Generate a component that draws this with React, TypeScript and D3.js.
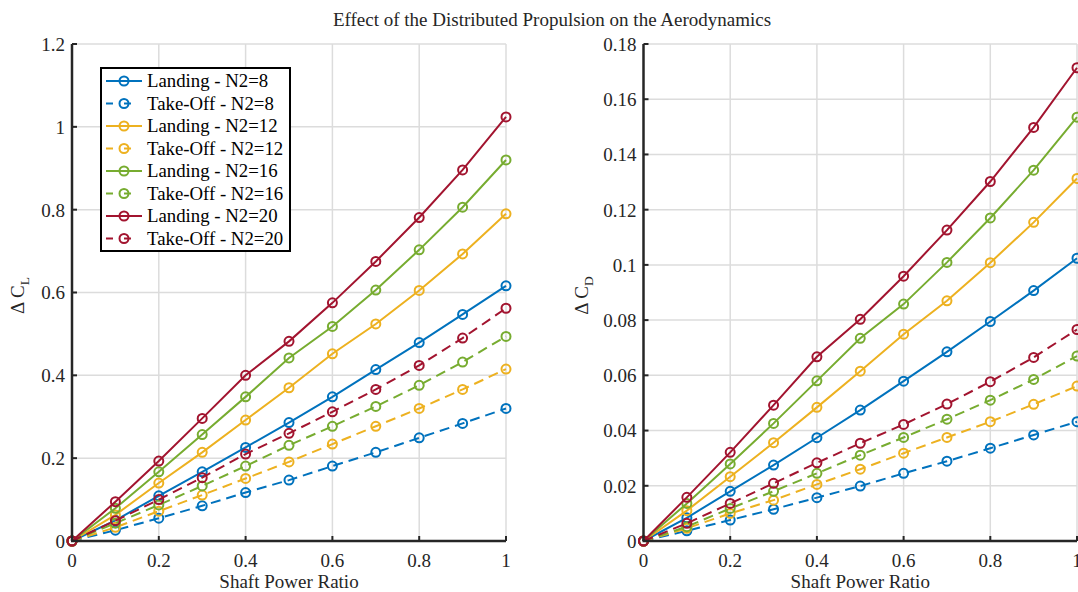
import React, { useRef, useEffect } from "react";
import * as d3 from "d3";

const shaftPower = [0, 0.1, 0.2, 0.3, 0.4, 0.5, 0.6, 0.7, 0.8, 0.9, 1];

// delta CL
const clLanding8 = [0, 0.05, 0.109, 0.167, 0.226, 0.286, 0.348, 0.414, 0.479, 0.547, 0.616];
const clTakeOff8 = [0, 0.026, 0.055, 0.085, 0.117, 0.147, 0.181, 0.214, 0.249, 0.284, 0.32];
const clLanding12 = [0, 0.063, 0.14, 0.214, 0.292, 0.37, 0.452, 0.524, 0.605, 0.693, 0.79];
const clTakeOff12 = [0, 0.033, 0.072, 0.111, 0.151, 0.191, 0.234, 0.277, 0.32, 0.366, 0.415];
const clLanding16 = [0, 0.079, 0.167, 0.257, 0.348, 0.442, 0.518, 0.606, 0.703, 0.806, 0.92];
const clTakeOff16 = [0, 0.043, 0.087, 0.133, 0.181, 0.231, 0.277, 0.325, 0.376, 0.432, 0.494];
const clLanding20 = [0, 0.095, 0.193, 0.296, 0.4, 0.482, 0.575, 0.675, 0.781, 0.896, 1.024];
const clTakeOff20 = [0, 0.049, 0.1, 0.153, 0.21, 0.26, 0.312, 0.366, 0.424, 0.49, 0.562];

// delta CD
const cdLanding8 = [0, 0.0084, 0.018, 0.0275, 0.0374, 0.0474, 0.0579, 0.0685, 0.0795, 0.0907, 0.1024];
const cdTakeOff8 = [0, 0.0037, 0.0076, 0.0115, 0.0157, 0.0199, 0.0245, 0.0289, 0.0336, 0.0384, 0.0432];
const cdLanding12 = [0, 0.011, 0.0233, 0.0356, 0.0484, 0.0615, 0.0749, 0.087, 0.1008, 0.1154, 0.1313];
const cdTakeOff12 = [0, 0.0046, 0.01, 0.0148, 0.0205, 0.026, 0.0318, 0.0375, 0.0432, 0.0495, 0.0561];
const cdLanding16 = [0, 0.0136, 0.0279, 0.0426, 0.058, 0.0734, 0.0858, 0.1009, 0.117, 0.1343, 0.1535];
const cdTakeOff16 = [0, 0.0052, 0.0118, 0.018, 0.0245, 0.0311, 0.0375, 0.0441, 0.051, 0.0585, 0.067];
const cdLanding20 = [0, 0.0158, 0.0321, 0.0492, 0.0667, 0.0803, 0.0959, 0.1126, 0.1302, 0.1498, 0.1714];
const cdTakeOff20 = [0, 0.0064, 0.0136, 0.0209, 0.0283, 0.0354, 0.0422, 0.0496, 0.0577, 0.0665, 0.0766];

const seriesNames = [
  "Landing - N2=8", "Take-Off - N2=8",
  "Landing - N2=12", "Take-Off - N2=12",
  "Landing - N2=16", "Take-Off - N2=16",
  "Landing - N2=20", "Take-Off - N2=20",
];
const seriesColors = ["#0072BD", "#0072BD", "#EDB120", "#EDB120", "#77AC30", "#77AC30", "#A2142F", "#A2142F"];
const seriesDashed = [false, true, false, true, false, true, false, true];

const xTicks = [0, 0.2, 0.4, 0.6, 0.8, 1];
const clTicks = [0, 0.2, 0.4, 0.6, 0.8, 1, 1.2];
const cdTicks = [0, 0.02, 0.04, 0.06, 0.08, 0.1, 0.12, 0.14, 0.16, 0.18];

const FONT = "Liberation Serif, Times New Roman, serif";
const INK = "#262626";
const FS = 19;

function drawPanel(svg, opts) {
  const { left, right, top, bottom, ymax, yTicks, series, sub, labelX, legend } = opts;
  const x = d3.scaleLinear().domain([0, 1]).range([left, right]);
  const y = d3.scaleLinear().domain([0, ymax]).range([bottom, top]);
  const g = svg.append("g");

  // grid
  g.selectAll(".vgrid").data(xTicks.filter(d => d > 0)).join("line")
    .attr("x1", d => x(d)).attr("x2", d => x(d))
    .attr("y1", top).attr("y2", bottom)
    .attr("stroke", "#dcdcdc").attr("stroke-width", 1.5);
  g.selectAll(".hgrid").data(yTicks.filter(d => d > 0)).join("line")
    .attr("x1", left).attr("x2", right)
    .attr("y1", d => y(d)).attr("y2", d => y(d))
    .attr("stroke", "#dcdcdc").attr("stroke-width", 1.5);

  const lineGen = d3.line().x((d, i) => x(shaftPower[i])).y(d => y(d));

  series.forEach((vals, s) => {
    g.append("path")
      .attr("d", lineGen(vals))
      .attr("fill", "none")
      .attr("stroke", seriesColors[s])
      .attr("stroke-width", 2)
      .attr("stroke-dasharray", seriesDashed[s] ? "10,6" : null);
    g.selectAll(".m" + s).data(vals).join("circle")
      .attr("cx", (d, i) => x(shaftPower[i]))
      .attr("cy", d => y(d))
      .attr("r", 4.5)
      .attr("fill", "none")
      .attr("stroke", seriesColors[s])
      .attr("stroke-width", 2);
  });

  // axes
  g.append("line").attr("x1", left).attr("x2", left).attr("y1", top).attr("y2", bottom)
    .attr("stroke", INK).attr("stroke-width", 2.5);
  g.append("line").attr("x1", left - 1).attr("x2", right).attr("y1", bottom).attr("y2", bottom)
    .attr("stroke", INK).attr("stroke-width", 2.5);

  g.selectAll(".ytick").data(yTicks).join("line")
    .attr("x1", left).attr("x2", left + 5)
    .attr("y1", d => y(d)).attr("y2", d => y(d))
    .attr("stroke", INK).attr("stroke-width", 2);
  g.selectAll(".xtick").data(xTicks).join("line")
    .attr("x1", d => x(d)).attr("x2", d => x(d))
    .attr("y1", bottom).attr("y2", bottom - 5)
    .attr("stroke", INK).attr("stroke-width", 2);

  g.selectAll(".ylab").data(yTicks).join("text")
    .attr("x", left - 7)
    .attr("y", d => y(d))
    .attr("dy", "0.36em")
    .attr("text-anchor", "end")
    .attr("font-family", FONT).attr("font-size", FS).attr("fill", INK)
    .text(d => String(+d.toFixed(2)));
  g.selectAll(".xlab").data(xTicks).join("text")
    .attr("x", d => x(d))
    .attr("y", bottom + 26)
    .attr("text-anchor", "middle")
    .attr("font-family", FONT).attr("font-size", FS).attr("fill", INK)
    .text(d => String(+d.toFixed(2)));

  g.append("text")
    .attr("x", (left + right) / 2)
    .attr("y", bottom + 47)
    .attr("text-anchor", "middle")
    .attr("font-family", FONT).attr("font-size", FS).attr("fill", INK)
    .text("Shaft Power Ratio");

  const yl = g.append("text")
    .attr("transform", `translate(${labelX},${(top + bottom) / 2 + 3}) rotate(-90)`)
    .attr("text-anchor", "middle")
    .attr("font-family", FONT).attr("font-size", FS).attr("fill", INK);
  yl.append("tspan").text("\u0394 C");
  yl.append("tspan").attr("font-size", 13.5).attr("dy", 5).text(sub);

  if (legend) {
    const lx = left + 29, ly = 68, lw = 189, lh = 183, rowH = 22.5;
    const lg = g.append("g");
    lg.append("rect").attr("x", lx).attr("y", ly).attr("width", lw).attr("height", lh)
      .attr("fill", "white").attr("stroke", "black").attr("stroke-width", 2);
    seriesNames.forEach((name, s) => {
      const cy = ly + 13 + s * rowH;
      lg.append("line").attr("x1", lx + 5).attr("x2", lx + 41).attr("y1", cy).attr("y2", cy)
        .attr("stroke", seriesColors[s]).attr("stroke-width", 2)
        .attr("stroke-dasharray", seriesDashed[s] ? "7,11" : null);
      lg.append("circle").attr("cx", lx + 23).attr("cy", cy).attr("r", 4.5)
        .attr("fill", "none").attr("stroke", seriesColors[s]).attr("stroke-width", 2);
      lg.append("text").attr("x", lx + 46).attr("y", cy).attr("dy", "0.34em")
        .attr("font-family", FONT).attr("font-size", 18.8).attr("fill", "black")
        .text(name);
    });
  }
}

export default function App() {
  const svgRef = useRef(null);

  useEffect(() => {
    const svg = d3.select(svgRef.current);
    svg.selectAll("*").remove();

    svg.append("rect").attr("width", 1078).attr("height", 592).attr("fill", "white");

    svg.append("text")
      .attr("x", 552).attr("y", 26)
      .attr("text-anchor", "middle")
      .attr("font-family", FONT).attr("font-size", 19).attr("fill", INK)
      .text("Effect of the Distributed Propulsion on the Aerodynamics");

    drawPanel(svg, {
      left: 72, right: 506, top: 44, bottom: 541, ymax: 1.2, yTicks: clTicks,
      series: [clLanding8, clTakeOff8, clLanding12, clTakeOff12, clLanding16, clTakeOff16, clLanding20, clTakeOff20],
      sub: "L", labelX: 24, legend: true,
    });
    drawPanel(svg, {
      left: 643.5, right: 1077, top: 44, bottom: 541, ymax: 0.18, yTicks: cdTicks,
      series: [cdLanding8, cdTakeOff8, cdLanding12, cdTakeOff12, cdLanding16, cdTakeOff16, cdLanding20, cdTakeOff20],
      sub: "D", labelX: 588, legend: false,
    });
  }, []);

  return (
    <svg ref={svgRef} width={1078} height={592}
      style={{ position: "absolute", left: 0, top: 0, display: "block" }} />
  );
}
